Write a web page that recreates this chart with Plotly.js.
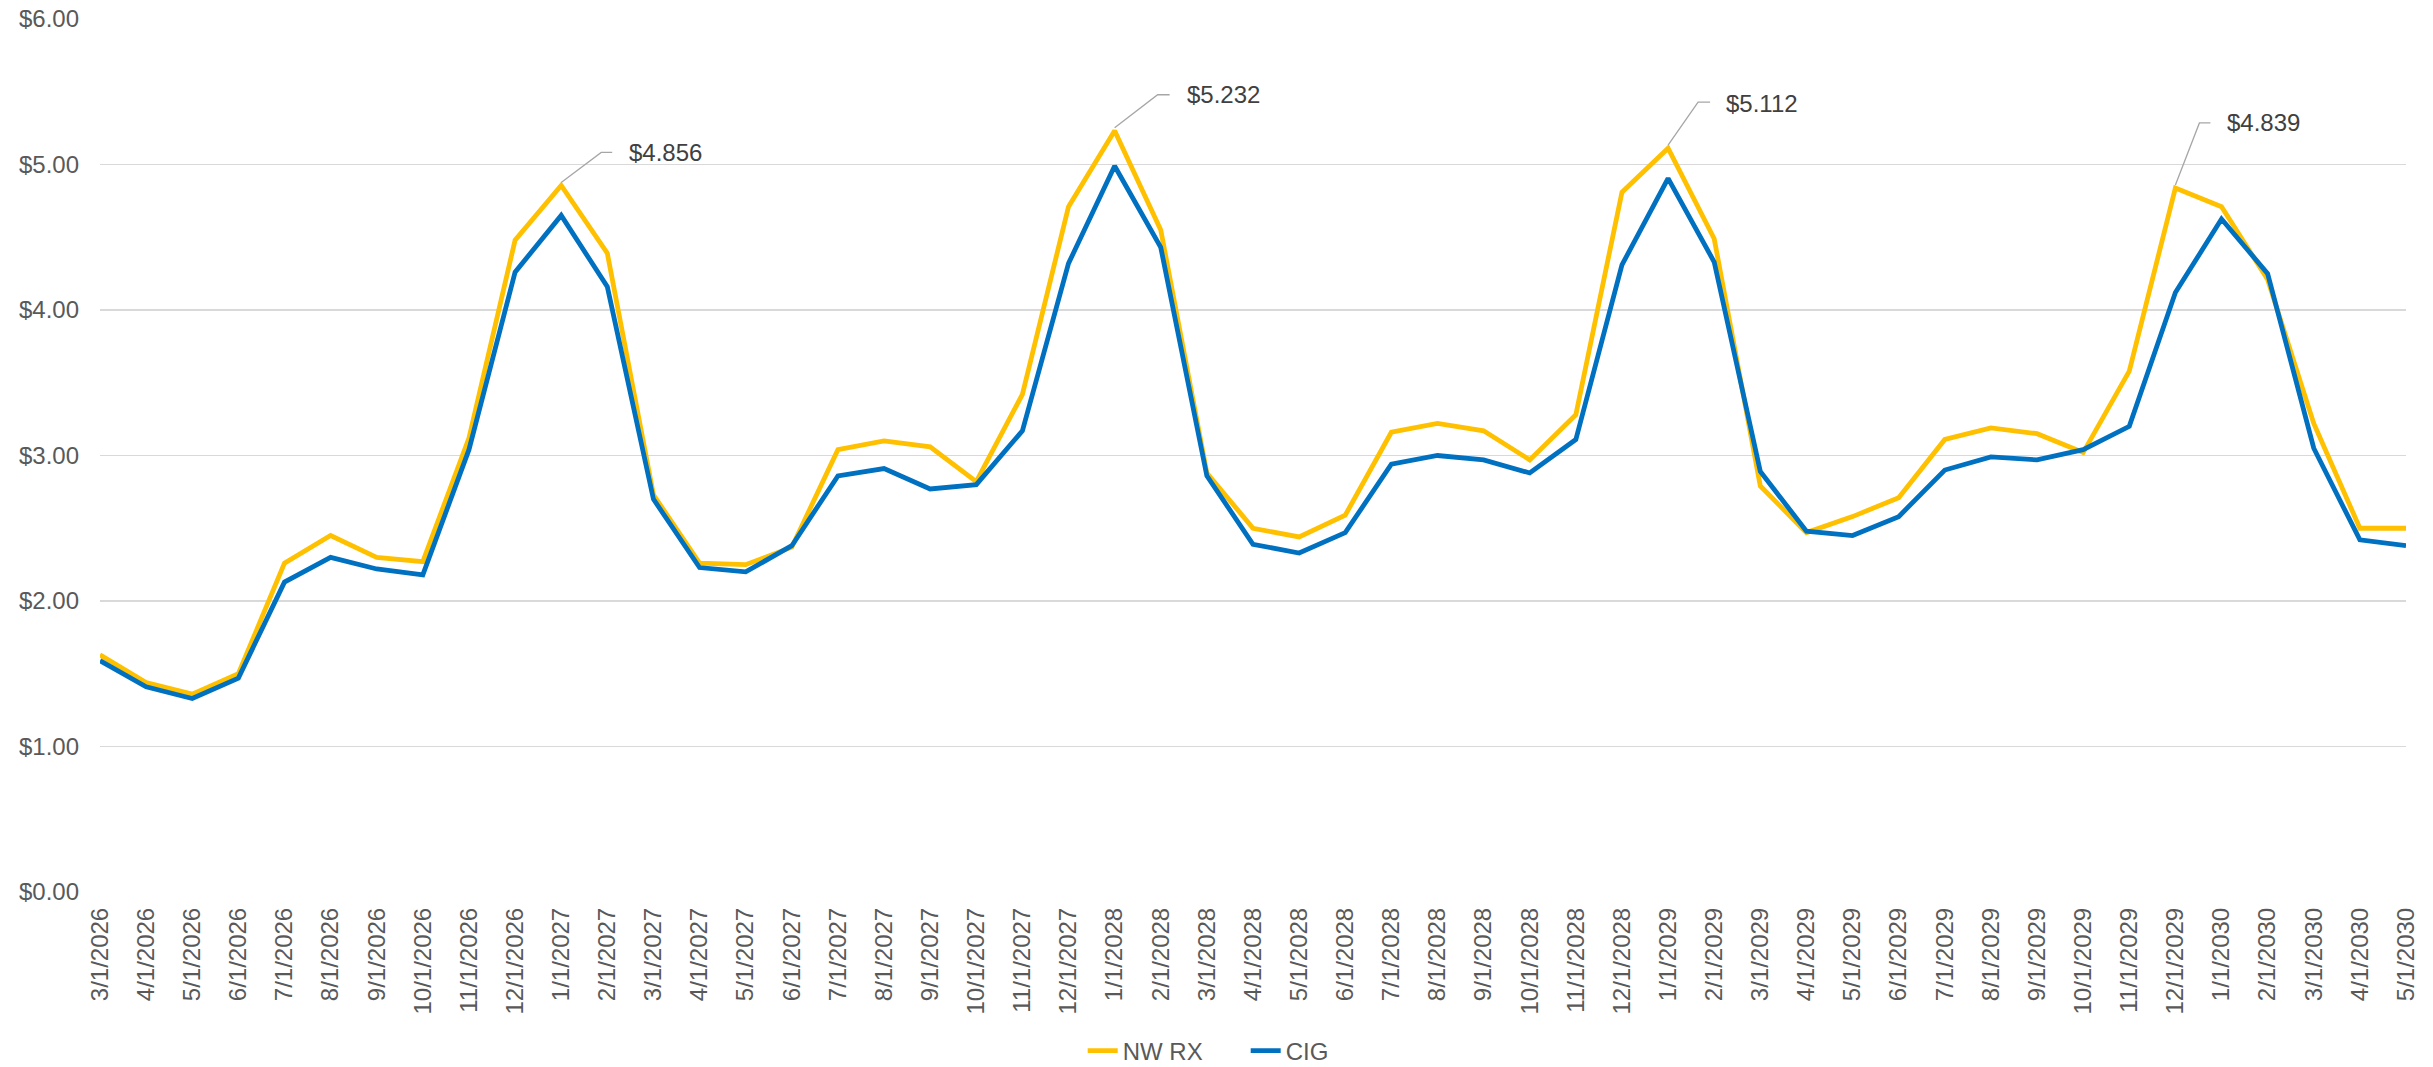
<!DOCTYPE html>
<html>
<head>
<meta charset="utf-8">
<script src="https://cdn.plot.ly/plotly-3.0.1.min.js"></script>
<style>html,body{margin:0;padding:0;background:#fff;}#chart{width:2433px;height:1067px;}</style>
</head>
<body>
<div id="chart"></div>
<script>
const months = ["3/1/2026","4/1/2026","5/1/2026","6/1/2026","7/1/2026","8/1/2026","9/1/2026","10/1/2026","11/1/2026","12/1/2026",
"1/1/2027","2/1/2027","3/1/2027","4/1/2027","5/1/2027","6/1/2027","7/1/2027","8/1/2027","9/1/2027","10/1/2027","11/1/2027","12/1/2027",
"1/1/2028","2/1/2028","3/1/2028","4/1/2028","5/1/2028","6/1/2028","7/1/2028","8/1/2028","9/1/2028","10/1/2028","11/1/2028","12/1/2028",
"1/1/2029","2/1/2029","3/1/2029","4/1/2029","5/1/2029","6/1/2029","7/1/2029","8/1/2029","9/1/2029","10/1/2029","11/1/2029","12/1/2029",
"1/1/2030","2/1/2030","3/1/2030","4/1/2030","5/1/2030"];

const nwrx = [1.63,1.44,1.36,1.50,2.26,2.45,2.30,2.27,3.12,4.48,
4.856,4.39,2.73,2.26,2.25,2.37,3.04,3.10,3.06,2.82,3.42,4.71,
5.232,4.55,2.88,2.50,2.44,2.59,3.16,3.22,3.17,2.97,3.28,4.81,
5.112,4.49,2.79,2.47,2.58,2.71,3.11,3.19,3.15,3.02,3.58,4.839,
4.71,4.21,3.22,2.50,2.50];

const cig = [1.59,1.41,1.33,1.47,2.13,2.30,2.22,2.18,3.04,4.26,
4.65,4.16,2.70,2.23,2.20,2.38,2.86,2.91,2.77,2.80,3.17,4.32,
4.99,4.43,2.86,2.39,2.33,2.47,2.94,3.00,2.97,2.88,3.11,4.31,
4.905,4.33,2.89,2.48,2.45,2.58,2.90,2.99,2.97,3.04,3.20,4.12,
4.625,4.25,3.05,2.42,2.38];

const callouts = [
  {i: 10, label: "$4.856", ex: 40, ey: 33, sx: 51, tx: 66, ty: 33},
  {i: 22, label: "$5.232", ex: 43, ey: 36, sx: 55, tx: 70, ty: 36},
  {i: 34, label: "$5.112", ex: 30, ey: 46, sx: 42, tx: 56, ty: 45},
  {i: 45, label: "$4.839", ex: 24, ey: 65, sx: 35, tx: 50, ty: 65}
];

const font = "Arial, 'Liberation Sans', sans-serif";

const traces = [
  {x: months, y: nwrx, type: 'scatter', mode: 'lines', name: 'NW RX',
   line: {color: '#FFC000', width: 4.8}, hoverinfo: 'x+y'},
  {x: months, y: cig, type: 'scatter', mode: 'lines', name: 'CIG',
   line: {color: '#0070C0', width: 4.8}, hoverinfo: 'x+y'}
];

const shapes = callouts.map(c => ({
  type: 'path', xref: 'x', yref: 'y',
  xsizemode: 'pixel', ysizemode: 'pixel',
  xanchor: months[c.i], yanchor: nwrx[c.i],
  path: `M 0 3 L ${c.ex} ${c.ey} L ${c.sx} ${c.ey}`,
  line: {color: '#A6A6A6', width: 1.3}
}));

const annotations = callouts.map(c => ({
  x: months[c.i], y: nwrx[c.i], xref: 'x', yref: 'y',
  text: c.label, showarrow: false,
  xanchor: 'left', yanchor: 'middle',
  xshift: c.tx, yshift: c.ty,
  font: {family: font, size: 24, color: '#404040'}
}));

const layout = {
  width: 2433, height: 1067,
  margin: {l: 100, r: 27, t: 19, b: 175, pad: 0},
  paper_bgcolor: '#ffffff', plot_bgcolor: '#ffffff',
  font: {family: font, size: 24, color: '#595959'},
  showlegend: true,
  legend: {orientation: 'h', xref: 'container', yref: 'container',
           x: 0.512, xanchor: 'center', y: 0.015, yanchor: 'middle',
           entrywidth: 118, entrywidthmode: 'pixels',
           font: {family: font, size: 24, color: '#595959'},
           traceorder: 'normal'},
  xaxis: {type: 'category', range: [0, 50], tickmode: 'linear', tick0: 0, dtick: 1,
          tickangle: -90, showgrid: false, zeroline: false, showline: false,
          ticks: '', ticklabelstandoff: 10,
          tickfont: {family: font, size: 24, color: '#595959'}},
  yaxis: {range: [0, 6], tickmode: 'linear', tick0: 0, dtick: 1, tickformat: '$.2f',
          showgrid: true, gridcolor: '#D9D9D9', gridwidth: 1.5,
          zeroline: false, showline: false, ticks: '', ticklabelstandoff: 20,
          tickfont: {family: font, size: 24, color: '#595959'}},
  shapes: shapes,
  annotations: annotations
};

Plotly.newPlot('chart', traces, layout, {displayModeBar: false, staticPlot: true});
</script>
</body>
</html>
